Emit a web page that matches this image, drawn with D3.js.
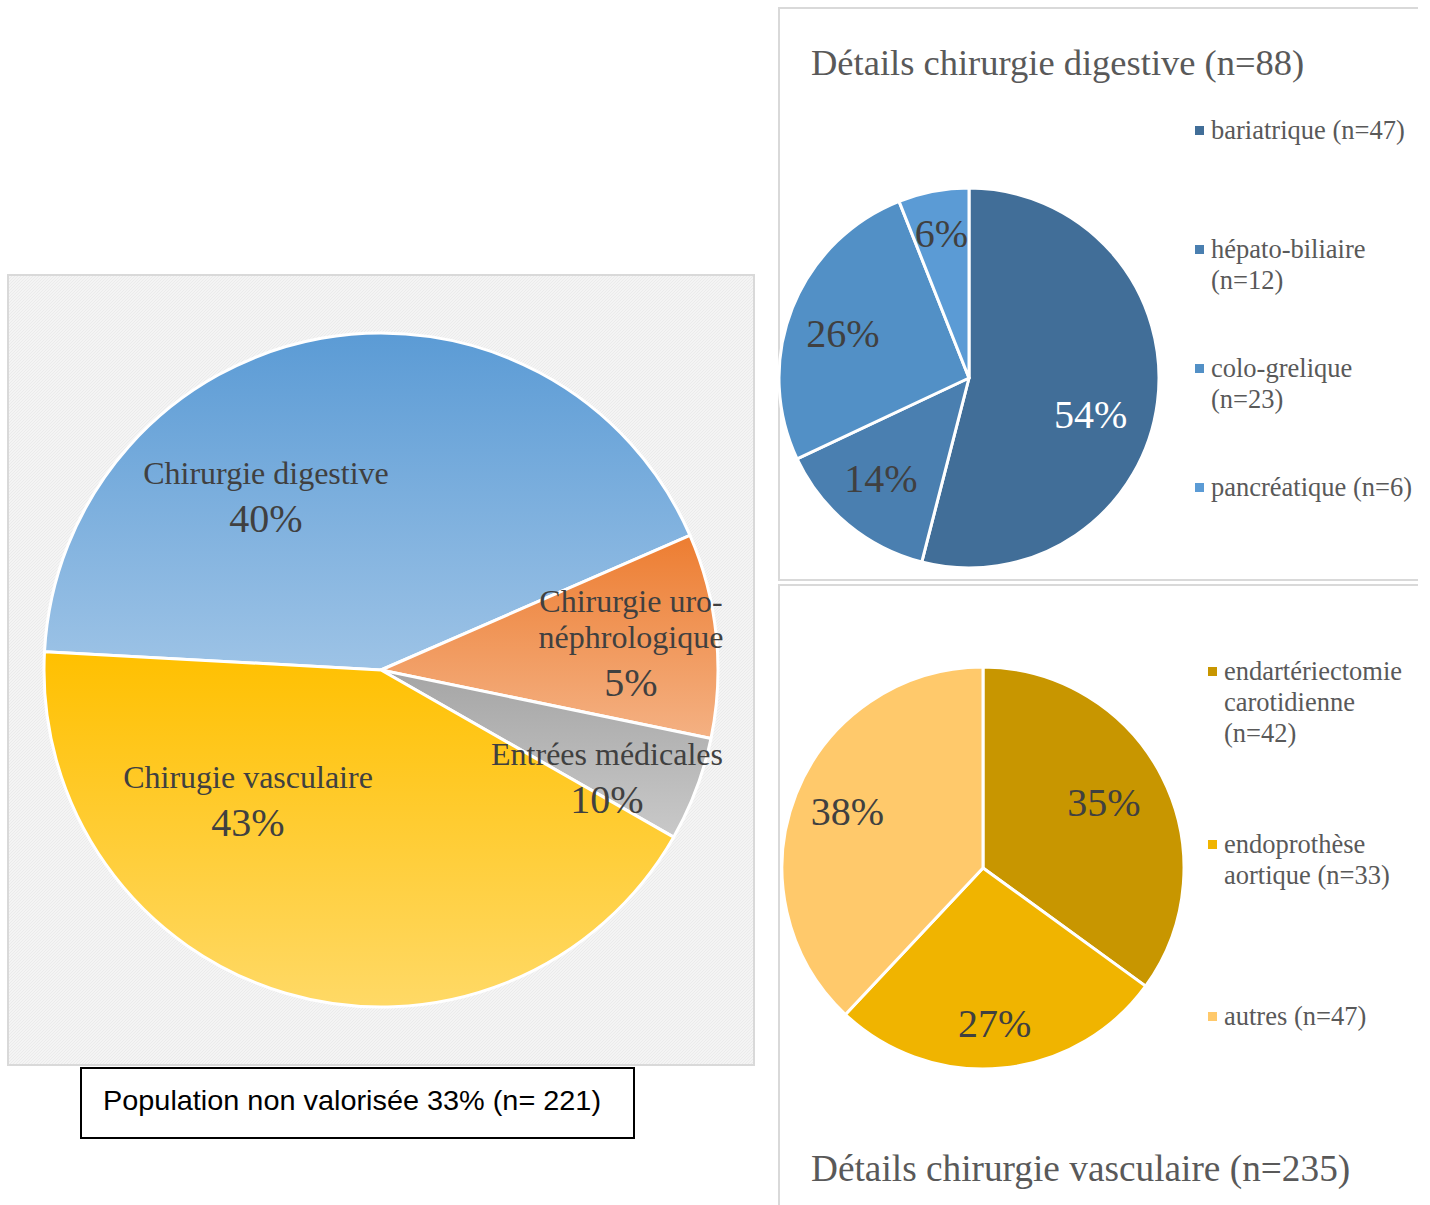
<!DOCTYPE html>
<html>
<head>
<meta charset="utf-8">
<script src="https://cdn.jsdelivr.net/npm/d3@7"></script>
<style>
    html, body { margin: 0; padding: 0; background: #fff; }
    svg { display: block; }
</style>
</head>
<body>
<svg id="chart" width="1430" height="1205"></svg>
<script>
// ---- data ----
// main pie (share of each activity)
const mainValues = [42.6, 9.8, 5.0, 42.6];
const mainLabels = [['Chirurgie digestive'], ['Chirurgie uro-', 'néphrologique'], ['Entrées médicales'], ['Chirugie vasculaire']];
const mainPercents = ['40%', '5%', '10%', '43%'];
const noteText = 'Population non valorisée 33% (n= 221)';

// digestive surgery detail
const digestiveTitle = 'Détails chirurgie digestive (n=88)';
const digestiveValues = [54, 14, 26, 6];
const digestiveLegend = [['bariatrique (n=47)'], ['hépato-biliaire', '(n=12)'], ['colo-grelique', '(n=23)'], ['pancréatique (n=6)']];

// vascular surgery detail
const vascularTitle = 'Détails chirurgie vasculaire (n=235)';
const vascularValues = [35, 27, 38];
const vascularLegend = [['endartériectomie', 'carotidienne', '(n=42)'], ['endoprothèse', 'aortique (n=33)'], ['autres (n=47)']];

// ---- styles ----
const SERIF = '"Liberation Serif", "Times New Roman", serif';
const mainGradients = [['#5b9bd5', '#9dc3e6'], ['#ed7d31', '#f4b183'], ['#a5a5a5', '#c9c9c9'], ['#ffc000', '#ffd966']];
const digestiveColors = ['#416e98', '#4a7fb0', '#5290c6', '#5b9bd5'];
const vascularColors = ['#c89600', '#f0b400', '#ffc96b'];
const toRad = deg => deg * Math.PI / 180;

const svg = d3.select('#chart');
const defs = svg.append('defs');

// light woven texture behind the main pie
const pattern = defs.append('pattern')
    .attr('id', 'weave')
    .attr('width', 3)
    .attr('height', 3)
    .attr('patternUnits', 'userSpaceOnUse');
pattern.append('rect').attr('width', 3).attr('height', 3).attr('fill', '#f4f4f4');
pattern.append('path').attr('d', 'M0,3 L3,0').attr('stroke', '#e8e8e8').attr('stroke-width', 0.8);

mainGradients.forEach((stops, i) => {
    const g = defs.append('linearGradient')
        .attr('id', `grad${i}`)
        .attr('x1', 0).attr('y1', 0).attr('x2', 0).attr('y2', 1);
    g.append('stop').attr('offset', '0%').attr('stop-color', stops[0]);
    g.append('stop').attr('offset', '100%').attr('stop-color', stops[1]);
});

// ---- main pie ----
const main = { cx: 381, cy: 670, r: 337 };

svg.append('rect')
    .attr('x', 8).attr('y', 275)
    .attr('width', 746).attr('height', 790)
    .attr('fill', 'url(#weave)')
    .attr('stroke', '#d9d9d9')
    .attr('stroke-width', 2);

const mainStart = toRad(-86.9);
const mainPie = d3.pie().sort(null).startAngle(mainStart).endAngle(mainStart + 2 * Math.PI);
const mainArc = d3.arc().innerRadius(0).outerRadius(main.r);
const mainG = svg.append('g').attr('transform', `translate(${main.cx},${main.cy})`);

mainG.selectAll('path')
    .data(mainPie(mainValues))
    .join('path')
    .attr('d', mainArc)
    .attr('fill', (d, i) => `url(#grad${i})`)
    .attr('stroke', '#fff')
    .attr('stroke-width', 3)
    .attr('stroke-linejoin', 'round');

// label anchors (x centre, first baseline) relative to pie centre, in px
const mainLabelAnchors = [[-115, -186], [250, -58], [226, 95], [-133, 118]];

mainLabels.forEach((lines, i) => {
    const [ax, ay] = mainLabelAnchors[i];
    const t = mainG.append('text')
        .attr('text-anchor', 'middle')
        .attr('font-family', SERIF)
        .attr('fill', '#404040');
    lines.forEach((line, j) => {
        t.append('tspan')
            .attr('x', ax)
            .attr('y', ay + j * 36)
            .attr('font-size', 32)
            .text(line);
    });
    t.append('tspan')
        .attr('x', ax)
        .attr('y', ay + (lines.length - 1) * 36 + 48)
        .attr('font-size', 40)
        .text(mainPercents[i]);
});

// note box under the main pie
svg.append('rect')
    .attr('x', 81).attr('y', 1068)
    .attr('width', 553).attr('height', 70)
    .attr('fill', '#fff')
    .attr('stroke', '#000')
    .attr('stroke-width', 2);
svg.append('text')
    .attr('x', 103).attr('y', 1110)
    .attr('font-family', '"Liberation Sans", Arial, sans-serif')
    .attr('font-size', 28)
    .attr('textLength', 498)
    .attr('lengthAdjust', 'spacingAndGlyphs')
    .attr('fill', '#000')
    .text(noteText);

// ---- detail panels ----
const panelLine = (d) => svg.append('path')
    .attr('d', d)
    .attr('fill', 'none')
    .attr('stroke', '#d9d9d9')
    .attr('stroke-width', 2);

panelLine('M1418,8 H779 V580 H1418');
panelLine('M1418,585 H779 V1205');

function drawDetailPie({ cx, cy, r, values, colors, labelRadius, nudges, whiteIdx }) {
    const pie = d3.pie().sort(null);
    const arc = d3.arc().innerRadius(0).outerRadius(r);
    const labelArc = d3.arc().innerRadius(r * labelRadius).outerRadius(r * labelRadius);
    const g = svg.append('g').attr('transform', `translate(${cx},${cy})`);
    const arcs = pie(values);

    g.selectAll('path')
        .data(arcs)
        .join('path')
        .attr('d', arc)
        .attr('fill', (d, i) => colors[i])
        .attr('stroke', '#fff')
        .attr('stroke-width', 3)
        .attr('stroke-linejoin', 'round');

    g.selectAll('text.pct')
        .data(arcs)
        .join('text')
        .attr('class', 'pct')
        .attr('transform', (d, i) => {
            const [x, y] = labelArc.centroid(d);
            const [nx, ny] = nudges[i] || [0, 0];
            return `translate(${x + nx},${y + ny})`;
        })
        .attr('text-anchor', 'middle')
        .attr('dy', '0.33em')
        .attr('font-family', SERIF)
        .attr('font-size', 40)
        .attr('fill', (d, i) => i === whiteIdx ? '#fff' : '#404040')
        .text(d => `${d.data}%`);
}

function drawLegend({ x, rows, colors }) {
    rows.forEach((row, i) => {
        svg.append('rect')
            .attr('x', x).attr('y', row.y - 13)
            .attr('width', 9).attr('height', 9)
            .attr('fill', colors[i]);
        const t = svg.append('text')
            .attr('font-family', SERIF)
            .attr('font-size', 26.5)
            .attr('fill', '#595959');
        row.lines.forEach((line, j) => {
            t.append('tspan')
                .attr('x', x + 16)
                .attr('y', row.y + j * 31)
                .text(line);
        });
    });
}

function drawTitle(text, y, size) {
    svg.append('text')
        .attr('x', 811).attr('y', y)
        .attr('font-family', SERIF)
        .attr('font-size', size)
        .attr('fill', '#595959')
        .text(text);
}

// digestive
drawTitle(digestiveTitle, 75, 36.5);
drawDetailPie({
    cx: 969, cy: 378, r: 190,
    values: digestiveValues,
    colors: digestiveColors,
    labelRadius: 0.72,
    nudges: [[-14, 20], [-1, -5], [1, 6], [-2, -10]],
    whiteIdx: 0
});
const digestiveRowY = [139, 258, 377, 496];
drawLegend({
    x: 1195,
    rows: digestiveLegend.map((lines, i) => ({ lines, y: digestiveRowY[i] })),
    colors: digestiveColors
});

// vascular
drawTitle(vascularTitle, 1181, 37.3);
drawDetailPie({
    cx: 983, cy: 868, r: 201,
    values: vascularValues,
    colors: vascularColors,
    labelRadius: 0.72,
    nudges: [[-8, 0], [-2, 12], [-1, -3]],
    whiteIdx: -1
});
const vascularRowY = [680, 853, 1025];
drawLegend({
    x: 1208,
    rows: vascularLegend.map((lines, i) => ({ lines, y: vascularRowY[i] })),
    colors: vascularColors
});
</script>
</body>
</html>
